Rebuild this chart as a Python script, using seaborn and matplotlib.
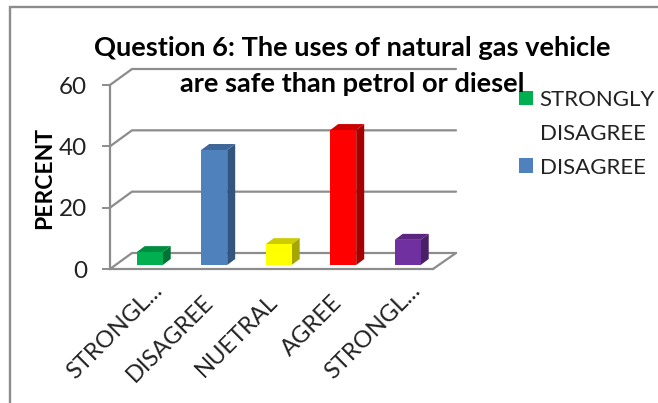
import matplotlib
matplotlib.use("Agg")
import matplotlib.pyplot as plt
import matplotlib.colors as mcolors
from matplotlib.lines import Line2D
from matplotlib.patches import Polygon, Patch
from matplotlib.transforms import ScaledTranslation, blended_transform_factory
import pandas as pd
import seaborn as sns

categories = ["STRONGLY DISAGREE", "DISAGREE", "NUETRAL", "AGREE", "STRONGLY AGREE"]
percent = [4.2, 37.5, 6.8, 44.0, 8.2]
bar_colors = ["#00B050", "#4F81BD", "#FFFF00", "#FF0000", "#7030A0"]
tick_labels = ["STRONGL...", "DISAGREE", "NUETRAL", "AGREE", "STRONGL..."]
legend_lines = ["STRONGLY", "DISAGREE", "DISAGREE"]
legend_colors = ["#00B050", "none", "#4F81BD"]
y_ticks = [0, 20, 40, 60]
title = "Question 6: The uses of natural gas vehicle\nare safe than petrol or diesel"

W, H = 658, 403
GRAY = "#8C8C8C"
TEXT = "#222222"

sns.set_theme(style="white")
plt.rcParams["font.family"] = ["Lato", "DejaVu Sans"]

fig = plt.figure(figsize=(W / 100, H / 100), dpi=100, facecolor="white")
L, R, T, B = 110, 433, 85, 269
ax = fig.add_axes([L / W, 1 - B / H, (R - L) / W, (B - T) / H])
ax.patch.set_alpha(0)

df = pd.DataFrame({"category": categories, "percent": percent})
sns.barplot(data=df, x="category", y="percent", hue="category", palette=bar_colors,
            saturation=1, width=0.403, legend=False, linewidth=0, edgecolor="none", ax=ax)

ax.set_xlim(-0.6155, 4.392)
ax.set_ylim(0, 60)
px_x = (4.392 + 0.6155) / (R - L)   # category units per pixel
px_y = 60 / (B - T)                 # value units per pixel

# 3D look: front face shifted up, with side and top faces from each bar
lift = ax.transData + ScaledTranslation(0, 4 / 100, fig.dpi_scale_trans)
dx, dy = 8 * px_x, 6 * px_y
for p, c in zip(list(ax.patches), bar_colors):
    x0, w, h = p.get_x(), p.get_width(), p.get_height()
    rgb = mcolors.to_rgb(c)
    side = tuple(v * 0.65 for v in rgb)
    top = tuple(v * 0.8 for v in rgb)
    p.set_transform(lift)
    p.set_zorder(5)
    p.set_clip_on(False)
    ax.add_patch(Polygon([(x0 + w, 0), (x0 + w + dx, dy), (x0 + w + dx, h + dy), (x0 + w, h)],
                         closed=True, fc=side, ec="none", transform=lift, zorder=4, clip_on=False))
    ax.add_patch(Polygon([(x0, h), (x0 + w, h), (x0 + w + dx, h + dy), (x0 + dx, h + dy)],
                         closed=True, fc=top, ec="none", transform=lift, zorder=4, clip_on=False))

# Walls and floor
blend = blended_transform_factory(ax.transAxes, ax.transData)
ax_w = R - L
for v in y_ticks:
    ax.plot([0, 22 / ax_w, 346 / ax_w], [v, v + 16 * px_y, v + 16 * px_y], color=GRAY, lw=1.6,
            transform=blend, clip_on=False, zorder=1, solid_joinstyle="miter")
ax.plot([1, 346 / ax_w], [0, 16 * px_y], color=GRAY, lw=1.6, transform=blend, clip_on=False, zorder=1)

sns.despine(ax=ax, top=True, right=True)
for s in ("left", "bottom"):
    ax.spines[s].set_color(GRAY)
    ax.spines[s].set_linewidth(1.6)
ax.set_yticks(y_ticks)
ax.tick_params(axis="y", left=True, length=5.5, width=1.4, color=GRAY, pad=11, labelsize=17.5, labelcolor=TEXT)
ax.set_xticks(range(len(tick_labels)))
ax.set_xticklabels(tick_labels, rotation=45, ha="right", rotation_mode="anchor", fontsize=17, color=TEXT)
ax.tick_params(axis="x", bottom=False, pad=10)
for lab in ax.get_xticklabels():
    if lab.get_text().endswith("..."):
        shift = ScaledTranslation(2 / 100, 12 / 100, fig.dpi_scale_trans)
    else:
        shift = ScaledTranslation(-12 / 100, 0, fig.dpi_scale_trans)
    lab.set_transform(lab.get_transform() + shift)
ax.set_xlabel("")
ax.set_ylabel("")

fig.text(45 / W, 1 - 178 / H, "PERCENT", rotation=90, ha="center", va="center",
         fontsize=16.5, fontweight="bold", color="black")
fig.text(352 / W, 1 - 66 / H, title, ha="center", va="center", fontsize=19.6,
         fontweight="bold", color="black", linespacing=1.6, zorder=10)

handles = [Patch(fc=c, ec="none") for c in legend_colors]
fig.legend(handles, legend_lines, loc="upper left", bbox_to_anchor=(519 / W, 1 - 90 / H),
           bbox_transform=fig.transFigure, frameon=False, fontsize=16, labelcolor=TEXT,
           handlelength=0.63, handleheight=0.63, handletextpad=0.3, labelspacing=0.62,
           borderpad=0, borderaxespad=0)

# Chart frame, cropped at right and bottom
fig.add_artist(Line2D([10 / W, 10 / W, 1], [0, 1 - 7 / H, 1 - 7 / H], color=GRAY, lw=1.7,
                      transform=fig.transFigure, solid_joinstyle="miter"))

fig.savefig("out.png", dpi=100)
